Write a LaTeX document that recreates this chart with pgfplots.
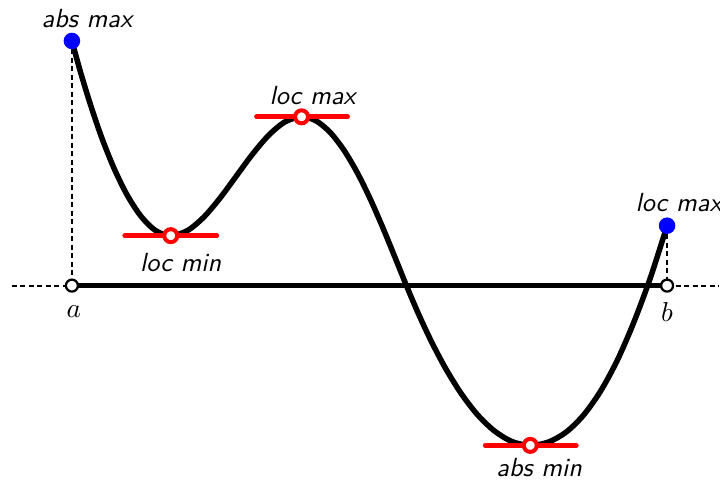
\documentclass[border=0pt]{standalone}
\usepackage{pgfplots}
\pgfplotsset{compat=1.18}
\tikzset{lbl/.style={font=\fontsize{10.5}{12}\selectfont\sffamily\itshape, inner sep=0pt}}
\begin{document}
\begin{tikzpicture}
\begin{axis}[
  scale only axis, width=288pt, height=192pt,
  xmin=0, xmax=720, ymin=0, ymax=480,
  hide axis, clip=false,
]
\draw[draw=none] (rel axis cs:0,0) rectangle (rel axis cs:1,1);
% dashed guides
\addplot[black, line width=0.8pt, dash pattern=on 2pt off 1.4pt] coordinates {(12,194) (72,194)};
\addplot[black, line width=0.8pt, dash pattern=on 2pt off 1.4pt] coordinates {(668,194) (720,194)};
\addplot[black, line width=0.8pt, dash pattern=on 2pt off 1.4pt] coordinates {(72,439) (72,194)};
\addplot[black, line width=0.8pt, dash pattern=on 2pt off 1.4pt] coordinates {(668,254) (668,194)};
% solid interval
\addplot[black, line width=2pt] coordinates {(72,194) (668,194)};
% curve
\addplot[black, line width=2.2pt, smooth, line join=round] coordinates {
(72,439) (80.6,407.9) (90.6,375.2) (101.7,342.6) (114,311.9) (127.2,284.9) (141.2,263.4) (155.8,249.1) (171,244)
(187.7,249.1) (204.1,262.6) (220.4,281.7) (236.5,303.5) (252.6,325.3) (268.9,344.4) (285.3,357.9) (302,363)
(316.8,358.8) (331.1,346.9) (344.9,328.9) (358.3,306.1) (371.2,279.8) (383.6,251.4) (395.5,222.4) (407,194)
(418.9,166.0) (432.0,138.0) (446.2,111.1) (461.5,86.4) (477.7,65.2) (494.8,48.7) (512.5,37.9) (531,34)
(549.4,37.4) (567.2,47.5) (584.5,64.5) (601.4,88.3) (618.1,119.1) (634.6,157.0) (651.3,201.9) (668,254)};
% tangent lines
\addplot[red, line width=2pt, line cap=round] coordinates {(125,244) (217,244)};
\addplot[red, line width=2pt, line cap=round] coordinates {(257,363) (348,363)};
\addplot[red, line width=2pt, line cap=round] coordinates {(486,34) (577,34)};
% red open circles
\addplot[only marks, mark=*, mark size=2.6pt, mark options={draw=red, fill=white, line width=1.6pt}] coordinates {(171,244) (302,363) (531,34)};
% endpoint circles
\addplot[only marks, mark=*, mark size=2.4pt, mark options={draw=black, fill=white, line width=0.9pt}] coordinates {(72,194) (668,194)};
% blue dots
\addplot[only marks, mark=*, mark size=3.1pt, mark options={draw=blue, fill=blue}] coordinates {(72,439) (668,254)};
% labels
\node[lbl] at (axis cs:87,461) {abs max};
\node[lbl] at (axis cs:313,384) {loc max};
\node[lbl] at (axis cs:181,217) {loc min};
\node[lbl] at (axis cs:540,12) {abs min};
\node[lbl, overlay, anchor=west] at (axis cs:636,277) {loc max};
\node[font=\fontsize{10.5}{12}\selectfont] at (axis cs:74,168) {$a$};
\node[font=\fontsize{10.5}{12}\selectfont] at (axis cs:668,168) {$b$};
\end{axis}
\end{tikzpicture}
\end{document}
